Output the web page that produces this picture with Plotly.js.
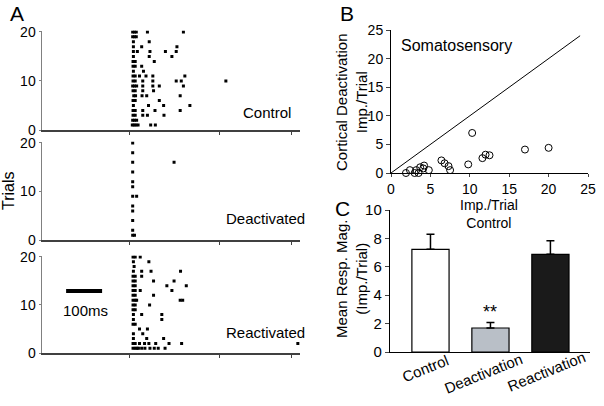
<!DOCTYPE html>
<html>
<head>
<meta charset="utf-8">
<script src="https://cdn.plot.ly/plotly-3.0.1.min.js"></script>
<style>
  html, body { margin: 0; padding: 0; background: #fff; }
  #chart { width: 604px; height: 406px; }
</style>
</head>
<body>
<div id="chart"></div>
<script>
// Spike times (ms after stimulus), one row per trial, trial 20 first down to trial 1
const controlSpikes = [
  [10, 15, 20, 51, 151], [10, 15, 20], [12, 56], [12, 35, 133], [12, 23, 58, 101, 131],
  [12, 56, 119], [11, 17, 70], [11, 17, 35], [12, 40], [11, 17, 29, 47, 66, 155],
  [11, 17, 38, 66, 131, 145, 269], [10, 15, 21, 38, 66, 84, 151], [11, 17, 38, 68], [13, 18, 36, 49, 142], [11, 17, 84],
  [12, 54, 96, 169], [11, 17, 38, 72, 142], [11, 17, 38, 51, 97], [10, 15, 21], [9, 14, 19, 25, 60, 73]
];
const deactivatedSpikes = [
  [10], [], [10], [], [10, 125],
  [], [10], [], [10], [10],
  [], [10, 21], [], [10], [10],
  [], [10], [], [10], [10, 15]
];
const reactivatedSpikes = [
  [11, 17, 31], [12, 55], [14], [12, 35, 61, 143], [11, 17, 35],
  [11, 17, 68, 125], [11, 17, 105, 159], [11, 17, 31, 119], [11, 17, 68], [11, 17, 21, 142, 149],
  [11, 17, 57], [11, 17], [12, 35, 91], [12, 91], [11, 17],
  [29, 51], [12, 38], [12, 49, 96], [11, 17, 29, 43, 55, 74, 111, 146, 469], [11, 17, 22, 26, 35, 44, 58, 70, 81, 100]
];
const nTrials = 20;

// Panel B: impulses per trial, control vs cortical deactivation
const ctrlImp = [1.9, 2.4, 3.0, 3.2, 3.5, 3.7, 4.1, 4.2, 4.8, 6.4, 6.8, 7.3, 7.5, 9.8, 10.3, 11.6, 12.0, 12.5, 17.0, 20.0];
const deactImp = [0.0, 0.5, 0.0, 0.5, 0.0, 1.0, 0.8, 1.3, 0.5, 2.2, 1.7, 1.2, 0.5, 1.5, 7.0, 2.6, 3.2, 3.1, 4.1, 4.4];
const unityLine = [0, 24];

// Panel C: mean response magnitude
const conditions = ['Control', 'Deactivation', 'Reactivation'];
const meanResp = [7.23, 1.69, 6.88];
const semResp = [1.06, 0.38, 0.96];
const barColors = ['#ffffff', '#b9bfc7', '#1a1a1a'];

const FONT = 'Liberation Sans, Arial, sans-serif';

function flatten(trials) {
  const xs = [], ys = [];
  trials.forEach((row, i) => {
    row.forEach(t => { xs.push(t); ys.push(nTrials - i); });
  });
  return { xs, ys };
}

function rasterTrace(trials, n) {
  const d = flatten(trials);
  return {
    x: d.xs, y: d.ys, type: 'scatter', mode: 'markers',
    xaxis: 'x' + n, yaxis: 'y' + n,
    marker: { symbol: 'square', size: 3, color: '#000' },
    hoverinfo: 'skip'
  };
}

const traces = [
  rasterTrace(controlSpikes, ''),
  rasterTrace(deactivatedSpikes, 2),
  rasterTrace(reactivatedSpikes, 3),
  {
    x: unityLine, y: unityLine, type: 'scatter', mode: 'lines',
    xaxis: 'x4', yaxis: 'y4', line: { color: '#000', width: 1 }
  },
  {
    x: ctrlImp, y: deactImp, type: 'scatter', mode: 'markers',
    xaxis: 'x4', yaxis: 'y4', cliponaxis: false,
    marker: { symbol: 'circle-open', size: 7, color: '#000', line: { width: 1 } }
  },
  {
    x: conditions, y: meanResp, type: 'bar',
    xaxis: 'x5', yaxis: 'y5', width: 0.62,
    marker: { color: barColors, line: { color: '#000', width: 1.2 } },
    error_y: { type: 'data', symmetric: false, array: semResp, arrayminus: [0, 0, 0],
               color: '#000', thickness: 1.5, width: 4 }
  }
];

// raster axes
const rasterX = {
  range: [-242, 475], showline: true, linecolor: '#404040', linewidth: 1.5,
  ticks: 'outside', ticklen: 3, tickcolor: '#404040', tickvals: [0, 250, 450],
  showticklabels: false, showgrid: false, zeroline: false
};
const rasterY = {
  range: [0, 20.3], showline: true, linecolor: '#808080', linewidth: 1.5,
  ticks: 'outside', ticklen: 2, tickcolor: '#808080', tickvals: [0, 10, 20],
  tickfont: { family: FONT, size: 14, color: '#000' },
  showgrid: false, zeroline: false
};
const xDomA = [42 / 604, 300 / 604];

// helper for free text placed in pixel coordinates
function label(text, px, py, opts) {
  return Object.assign({
    text: text, xref: 'paper', yref: 'paper', x: px / 604, y: 1 - py / 406,
    xanchor: 'center', yanchor: 'middle', showarrow: false, font: { size: 15 }
  }, opts || {});
}

// rotated category labels under panel C
const catLabelPos = [[425, 368], [483, 373], [546, 371]];
const catLabels = conditions.map((c, i) => label(c, catLabelPos[i][0], catLabelPos[i][1], { textangle: -22 }));

const layout = {
  width: 604, height: 406,
  margin: { l: 0, r: 0, t: 0, b: 0 },
  paper_bgcolor: '#fff', plot_bgcolor: 'rgba(0,0,0,0)',
  showlegend: false,
  font: { family: FONT, color: '#000' },

  xaxis:  { ...rasterX, domain: xDomA, anchor: 'y' },
  yaxis:  { ...rasterY, domain: [1 - 130 / 406, 1 - 30.5 / 406], anchor: 'x' },
  xaxis2: { ...rasterX, domain: xDomA, anchor: 'y2' },
  yaxis2: { ...rasterY, domain: [1 - 240 / 406, 1 - 141.5 / 406], anchor: 'x2',
            title: { text: 'Trials', font: { family: FONT, size: 16 }, standoff: 6 } },
  xaxis3: { ...rasterX, domain: xDomA, anchor: 'y3' },
  yaxis3: { ...rasterY, domain: [1 - 353 / 406, 1 - 255.5 / 406], anchor: 'x3' },

  xaxis4: {
    domain: [391 / 604, 588 / 604], anchor: 'y4', range: [0, 25], dtick: 5,
    showline: true, linecolor: '#000', linewidth: 1, ticks: 'outside', ticklen: 3,
    showgrid: false, zeroline: false,
    tickfont: { family: FONT, size: 14 }
  },
  yaxis4: {
    domain: [1 - 173 / 406, 1 - 30 / 406], anchor: 'x4', range: [0, 25], dtick: 5,
    showline: true, linecolor: '#000', linewidth: 1, ticks: 'outside', ticklen: 4,
    showgrid: false, zeroline: false,
    tickfont: { family: FONT, size: 14 }
  },

  xaxis5: {
    domain: [390 / 604, 590 / 604], anchor: 'y5', type: 'category',
    range: [-0.675, 2.66], showline: true, linecolor: '#000', linewidth: 1.2,
    ticks: '', showticklabels: false, showgrid: false, zeroline: false
  },
  yaxis5: {
    domain: [1 - 352 / 406, 1 - 210 / 406], anchor: 'x5', range: [0, 10], dtick: 2,
    showline: true, linecolor: '#000', linewidth: 1.2, ticks: 'outside', ticklen: 4,
    showgrid: false, zeroline: false,
    tickfont: { family: FONT, size: 15 }
  },

  shapes: [
    // 100 ms scale bar
    { type: 'line', xref: 'x3', yref: 'y3', x0: -175, x1: -75, y0: 12.9, y1: 12.9,
      line: { color: '#000', width: 4 } }
  ],

  annotations: [
    label('A', 17, 14, { font: { size: 21 } }),
    label('B', 347, 14, { font: { size: 21 } }),
    label('C', 342, 208, { font: { size: 21 } }),
    label('Control', 241, 112, { xanchor: 'left' }),
    label('Deactivated', 224, 218, { xanchor: 'left' }),
    label('Reactivated', 224, 332, { xanchor: 'left' }),
    label('100ms', 85, 310),
    label('Somatosensory', 399, 45, { xanchor: 'left', font: { size: 16 } }),
    // panel B axis titles
    label('Imp./Trial<br>Control', 489, 214, { font: { size: 14 }, borderpad: 0 }),
    label('Cortical Deactivation<br>Imp./Trial', 351, 102, { textangle: -90 }),
    // panel C axis title
    label('Mean Resp. Mag.<br>(Imp./Trial)', 351, 279, { textangle: -90 }),
    { text: '**', xref: 'x5', yref: 'y5', x: 'Deactivation', y: 2.85, xanchor: 'center', yanchor: 'middle',
      showarrow: false, font: { size: 18 } }
  ].concat(catLabels)
};

Plotly.newPlot('chart', traces, layout, { staticPlot: true, displayModeBar: false });
</script>
</body>
</html>
